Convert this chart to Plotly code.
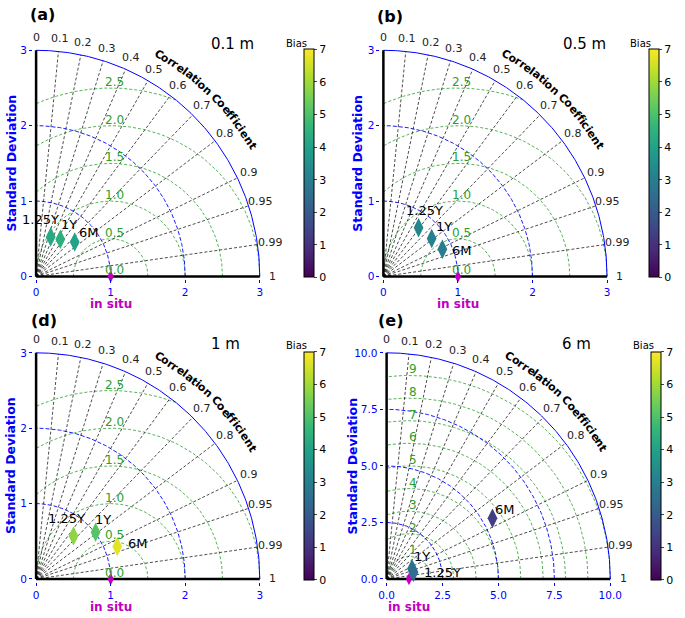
import numpy as np
import plotly.graph_objects as go

# model runs shown in every panel
runs = ["6M", "1Y", "1.25Y"]

# normalised standard deviation, correlation and bias
std_a = [0.69, 0.59, 0.56]
corr_a = [0.75, 0.55, 0.35]
bias_a = [4.0, 4.4, 4.2]

std_b = [0.87, 0.82, 0.80]
corr_b = [0.91, 0.79, 0.59]
bias_b = [2.9, 3.1, 3.2]

std_d = [1.17, 1.01, 0.76]
corr_d = [0.93, 0.79, 0.66]
bias_d = [6.7, 5.1, 5.8]

std_e = [5.44, 1.22, 1.24]
corr_e = [0.87, 0.93, 0.97]
bias_e = [1.3, 2.7, 2.5]

# diagram scales
corr_ticks = [0, 0.1, 0.2, 0.3, 0.4, 0.5, 0.6, 0.7, 0.8, 0.9, 0.95, 0.99, 1]
std_ticks_small = [0, 1, 2, 3]
std_ticks_large = [0, 2.5, 5.0, 7.5, 10.0]
rms_ticks_small = [0.0, 0.5, 1.0, 1.5, 2.0, 2.5]
rms_ticks_large = [1, 2, 3, 4, 5, 6, 7, 8, 9]
ref_std = 1.0
bias_range = [0, 7]

W, H = 685, 618
RPX = 228          # pixel radius of every diagram
FONT = "DejaVu Sans"
BLUE = "blue"
GREEN = "#2ca02c"
MAGENTA = "#c000c0"

panels = [
    dict(letter="(a)", title="0.1 m", std=std_a, corr=corr_a, bias=bias_a,
         sticks=std_ticks_small, sfmt="{:g}", rms=rms_ticks_small, rfmt="{:.1f}",
         origin=(31.7, 276.7), cbx=305, letter_xy=(38, 13), title_xy=(232, 42),
         sd_shift=-25, lab_off=[(14, 10), (9, 15), (-10, 17)]),
    dict(letter="(b)", title="0.5 m", std=std_b, corr=corr_b, bias=bias_b,
         sticks=std_ticks_small, sfmt="{:g}", rms=rms_ticks_small, rfmt="{:.1f}",
         origin=(385.7, 276.7), cbx=656, letter_xy=(392, 15), title_xy=(591, 42),
         sd_shift=-26, lab_off=[(20, -1), (12, 12), (6, 17)]),
    dict(letter="(d)", title="1 m", std=std_d, corr=corr_d, bias=bias_d,
         sticks=std_ticks_small, sfmt="{:g}", rms=rms_ticks_small, rfmt="{:.1f}",
         origin=(31.7, 581.7), cbx=305, letter_xy=(40, 321), title_xy=(225, 345),
         sd_shift=-25, lab_off=[(21, 3), (7, 13), (-7, 17)]),
    dict(letter="(e)", title="6 m", std=std_e, corr=corr_e, bias=bias_e,
         sticks=std_ticks_large, sfmt="{:.1f}", rms=rms_ticks_large, rfmt="{:d}",
         origin=(389, 581.7), cbx=659, letter_xy=(393, 321), title_xy=(583, 345),
         sd_shift=-34, lab_off=[(13, 9), (10, 12), (29, 0)]),
]

# approximate bold glyph widths (em) for the curved axis title
glyph_w = {"C": .73, "o": .69, "r": .49, "e": .68, "l": .34, "a": .68, "t": .48,
           "i": .34, "n": .71, " ": .35, "f": .44, "c": .59}
curved_title = "Correlation Coefficient"
curved_fs = 11

fig = go.Figure()
th = np.linspace(0, np.pi / 2, 200)


def paper(p, x, y):
    # diagram units -> paper fraction (same mapping as the axis domains below)
    R = p["sticks"][-1]
    s = RPX / R
    ox, oy = p["origin"]
    return (ox + x * s) / W, 1 - (oy - y * s) / H


def text_at(px_, py_, text, **kw):
    fig.add_annotation(x=px_, y=py_, xref="paper", yref="paper", text=text,
                       showarrow=False, xanchor="center", yanchor="middle", **kw)


def note(p, x, y, text, **kw):
    text_at(*paper(p, x, y), text, **kw)


for i, p in enumerate(panels):
    n = i + 1
    xa, ya = ("x", "y") if n == 1 else (f"x{n}", f"y{n}")
    R = p["sticks"][-1]
    s = RPX / R
    ox, oy = p["origin"]

    # RMS difference arcs around the reference point
    gx, gy = [], []
    for rr in p["rms"]:
        if rr <= 0:
            continue
        t0 = np.arccos(np.clip((R**2 - ref_std**2 - rr**2) / (2 * ref_std * rr), -1, 1))
        t1 = np.arccos(np.clip(-ref_std / rr, -1, 1))
        t = np.linspace(t0, t1, 200)
        gx += list(ref_std + rr * np.cos(t)) + [None]
        gy += list(rr * np.sin(t)) + [None]
    fig.add_trace(go.Scatter(x=gx, y=gy, mode="lines", xaxis=xa, yaxis=ya,
                             line=dict(color=GREEN, width=0.8, dash="3px,2px"),
                             hoverinfo="skip"))

    # standard deviation arcs
    bx, by = [], []
    for r in p["sticks"][1:-1]:
        bx += list(r * np.cos(th)) + [None]
        by += list(r * np.sin(th)) + [None]
    fig.add_trace(go.Scatter(x=bx, y=by, mode="lines", xaxis=xa, yaxis=ya,
                             line=dict(color=BLUE, width=0.9, dash="4px,2px"),
                             hoverinfo="skip"))

    # correlation rays
    cx, cy = [], []
    for c in corr_ticks[1:-1]:
        cx += [0, R * c, None]
        cy += [0, R * np.sqrt(1 - c**2), None]
    fig.add_trace(go.Scatter(x=cx, y=cy, mode="lines", xaxis=xa, yaxis=ya,
                             line=dict(color="black", width=0.7, dash="3px,2px"),
                             hoverinfo="skip"))

    # outer arc and the two black axes
    fig.add_trace(go.Scatter(x=R * np.cos(th), y=R * np.sin(th), mode="lines",
                             xaxis=xa, yaxis=ya, line=dict(color=BLUE, width=1),
                             hoverinfo="skip"))
    fig.add_trace(go.Scatter(x=[0, 0, None, 0, R], y=[R, 0, None, 0, 0], mode="lines",
                             xaxis=xa, yaxis=ya, line=dict(color="black", width=2.5),
                             hoverinfo="skip"))

    # reference point
    fig.add_trace(go.Scatter(x=[ref_std], y=[0], mode="markers", xaxis=xa, yaxis=ya,
                             marker=dict(symbol="diamond-tall", size=9, color=MAGENTA),
                             cliponaxis=False, hoverinfo="skip"))

    # model points coloured by bias
    std = np.array(p["std"])
    corr = np.array(p["corr"])
    mx = std * corr
    my = std * np.sqrt(1 - corr**2)
    fig.add_trace(go.Scatter(
        x=mx, y=my, mode="markers", xaxis=xa, yaxis=ya, cliponaxis=False,
        text=runs, hovertemplate="%{text}<extra></extra>",
        marker=dict(symbol="diamond-tall", size=14, color=p["bias"],
                    colorscale="Viridis", cmin=bias_range[0], cmax=bias_range[1],
                    showscale=True,
                    colorbar=dict(x=p["cbx"] / W, xanchor="left", xpad=0, ypad=0,
                                  y=1 - (oy - RPX / 2) / H, yanchor="middle",
                                  len=RPX, lenmode="pixels", thickness=10,
                                  thicknessmode="pixels", outlinewidth=1,
                                  outlinecolor="black",
                                  tickvals=list(range(bias_range[0], bias_range[1] + 1)),
                                  ticks="outside", ticklen=3,
                                  tickfont=dict(size=11, color="black")))))

    for k, name in enumerate(runs):
        dx, dy = p["lab_off"][k]
        note(p, mx[k], my[k], name, xshift=dx, yshift=dy,
             font=dict(size=13, color="black"))

    # axes placed so that 0..R spans RPX pixels
    lo, hi = 3 / s, 4 / s
    ticktext = [p["sfmt"].format(v) for v in p["sticks"]]
    axis_common = dict(showgrid=False, zeroline=False, showline=False, ticks="outside",
                       ticklen=3, tickcolor=BLUE, tickvals=p["sticks"], ticktext=ticktext,
                       tickfont=dict(size=10.5, color=BLUE), fixedrange=True)
    xkey = "xaxis" if n == 1 else f"xaxis{n}"
    ykey = "yaxis" if n == 1 else f"yaxis{n}"
    fig.update_layout(**{
        xkey: dict(domain=[(ox - 3) / W, (ox + RPX + 4) / W], range=[-lo, R + hi],
                   anchor=ya, **axis_common),
        ykey: dict(domain=[1 - (oy + 3) / H, 1 - (oy - RPX - 4) / H], range=[-lo, R + hi],
                   anchor=xa, **axis_common),
    })

    # correlation tick labels
    for c in corr_ticks:
        a = np.arccos(c)
        note(p, 1.057 * R * np.cos(a), 1.057 * R * np.sin(a), f"{c:g}",
             font=dict(size=11, color="#222222"))

    # curved "Correlation Coefficient" title
    rt = 1.125 * RPX
    total = sum(glyph_w[ch] for ch in curved_title) * curved_fs
    start = np.radians(46) + total / 2 / rt
    acc = 0.0
    for ch in curved_title:
        w = glyph_w[ch] * curved_fs
        ang = start - (acc + w / 2) / rt
        acc += w
        if ch == " ":
            continue
        note(p, 1.125 * R * np.cos(ang), 1.125 * R * np.sin(ang), f"<b>{ch}</b>",
             textangle=90 - np.degrees(ang), font=dict(size=curved_fs, color="black"))

    # RMS labels
    for rr in p["rms"]:
        note(p, ref_std, rr, p["rfmt"].format(rr), xshift=4, yshift=6,
             font=dict(size=12, color=GREEN))

    # axis titles
    note(p, 0, R / 2, "<b>Standard Deviation</b>", textangle=-90,
         xshift=p["sd_shift"], font=dict(size=12.5, color=BLUE))
    note(p, ref_std, 0, "<b>in situ</b>", yshift=-28, font=dict(size=12, color=MAGENTA))

    # panel letter, depth and colorbar caption
    lx, ly = p["letter_xy"]
    text_at(lx / W, 1 - ly / H, f"<b>{p['letter']}</b>", font=dict(size=16, color="black"))
    tx, ty = p["title_xy"]
    text_at(tx / W, 1 - ty / H, p["title"], font=dict(size=15, color="black"))
    text_at((p["cbx"] - 8) / W, 1 - (oy - RPX - 7) / H, "Bias",
            font=dict(size=10, color="black"))

fig.update_layout(
    width=W, height=H, autosize=False,
    margin=dict(l=0, r=0, t=0, b=0),
    paper_bgcolor="white", plot_bgcolor="rgba(0,0,0,0)",
    showlegend=False,
    font=dict(family=FONT),
)

# the page is photographed at 685x618, so drop the browser's default body margin
fig.write_html("out.html", config={"displayModeBar": False},
               post_script="document.body.style.margin = '0';")
